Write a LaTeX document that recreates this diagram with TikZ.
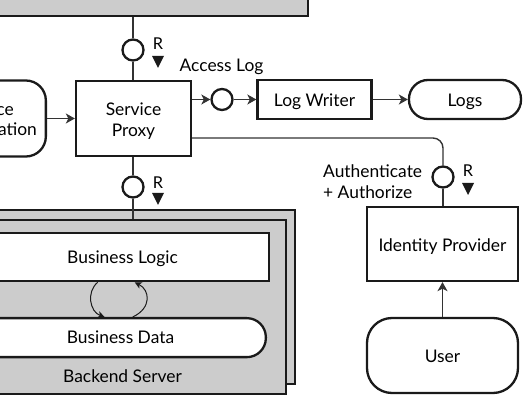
\documentclass[tikz,border=0pt]{standalone}
\usepackage{fontspec}
\setmainfont{Lato}
\usetikzlibrary{arrows.meta}
\definecolor{boxgray}{HTML}{CCCCCC}
\definecolor{edge}{HTML}{1A1A1A}
\definecolor{conn}{HTML}{333333}
\tikzset{
  base/.style={draw=edge, line width=2.3pt, inner sep=0pt, font=\fontsize{17.4}{21}\selectfont, text height=14.6pt, text depth=0pt},
  whitebox/.style={base, fill=white},
  graybox/.style={base, fill=boxgray},
  roundbox/.style={whitebox, rounded corners=20pt},
  stadium/.style={whitebox, rounded corners=19pt},
  port/.style={circle, draw=edge, line width=2.3pt, fill=white, minimum size=21pt, inner sep=0pt},
  lbl/.style={inner sep=0pt, anchor=base, font=\fontsize{17.4}{21}\selectfont},
  rlbl/.style={inner sep=0pt, anchor=base, font=\fontsize{16.3}{19}\selectfont},
  conn/.style={draw=conn, line width=1.4pt},
  arr/.style={conn, -{Stealth[length=9pt,width=10pt,inset=2.5pt]}},
  sarr/.style={draw=edge, line width=1pt, -{Stealth[length=7pt,width=7pt,inset=2pt]}},
}
\begin{document}
\begin{tikzpicture}[x=1pt,y=-1pt]
\useasboundingbox (0,0) rectangle (531,403);
\clip (0,0) rectangle (531,403);
% top gray box
\node[graybox, minimum width=340pt, minimum height=40pt, anchor=south east] (top) at (309,17) {};
% left application
\node[roundbox, minimum width=110pt, minimum height=76pt, anchor=east] (app) at (47,118.5) {};
\node[lbl, anchor=base east] (apptxtA) at (14,115.7) {Service};
\node[lbl, anchor=base east] (apptxtB) at (37,135.9) {Application};
% service proxy
\node[whitebox, minimum width=115pt, minimum height=75pt] (proxy) at (133.5,118.5) {};
\node[lbl] (proxytxtA) at (133.5,115.2) {Service};
\node[lbl] (proxytxtB) at (133.5,136.2) {Proxy};
% ports
\node[port] (p1) at (133,50) {};
\node[port] (p2) at (133,187) {};
\node[port] (p3) at (222,99.5) {};
\node[port] (p4) at (443,177) {};
% R markers
\node[rlbl] (r1) at (158,50) {R};
\node[rlbl] (r2) at (158,188.3) {R};
\node[rlbl] (r4) at (468,176.8) {R};
\foreach \px/\py in {158/62, 158/199, 468/189}{
  \fill[edge] (\px-6,\py-6) -- (\px+6,\py-6) -- (\px,\py+6) -- cycle;
}
% access log
\node[lbl] (alog) at (221.5,71.7) {Access Log};
% log writer & logs
\node[whitebox, minimum width=114pt, minimum height=39pt] (lw) at (314.5,99.5) {Log Writer};
\node[stadium, minimum width=112pt, minimum height=39pt] (logs) at (465,99.5) {Logs};
% identity provider & user
\node[whitebox, minimum width=151pt, minimum height=74pt] (idp) at (442.5,244) {Identity Provider};
\node[roundbox, rounded corners=25pt, minimum width=151pt, minimum height=75pt] (user) at (442.5,355.5) {User};
\node[lbl, anchor=base west] (authA) at (323,177.7) {Authenticate};
\node[lbl, anchor=base west] (authB) at (323,198.4) {+ Authorize};
% backend server
\node[graybox, minimum width=316pt, minimum height=174pt, anchor=north east] (bsback) at (296,209) {};
\node[graybox, minimum width=307pt, minimum height=174pt, anchor=north east] (bs) at (287,219) {};
\node[whitebox, minimum width=290pt, minimum height=48pt, anchor=north east] (bl) at (270,232) {};
\node[lbl] (bltxt) at (122.5,263.3) {Business Logic};
\node[stadium, minimum width=287pt, minimum height=39pt, anchor=north east] (bd) at (267,317) {};
\node[lbl] (bdtxt) at (120.5,343.3) {Business Data};
\node[lbl] (bstxt) at (122.5,382.7) {Backend Server};
% connectors
\draw[conn] (top.south -| p1) -- (p1);
\draw[conn] (p1) -- (proxy.north -| p1);
\draw[conn] (proxy.south -| p2) -- (p2);
\draw[conn] (p2) -- (bs.north -| p2);
\draw[arr] (app.east |- proxy) -- (proxy.west);
\draw[arr] (proxy.east |- p3) -- (p3.west);
\draw[arr] (p3.east) -- (lw.west);
\draw[arr] (lw.east) -- (logs.west);
\draw[conn, rounded corners=10pt] ([yshift=-19.5pt]proxy.east) -| (p4.north);
\draw[conn] (p4.south) -- (idp.north -| p4);
\draw[arr] (user.north) -- (idp.south);
\coordinate (blA) at ([xshift=120pt]bl.south west);
\coordinate (blB) at ([xshift=157pt]bl.south west);
\coordinate (bdA) at ([xshift=127pt]bd.north west);
\coordinate (bdB) at ([xshift=155pt]bd.north west);
\draw[sarr] (blA) .. controls (86,292) and (90,312) .. (bdA);
\draw[sarr] (bdB) .. controls (152,308) and (150,290) .. (blB);
\end{tikzpicture}
\end{document}
